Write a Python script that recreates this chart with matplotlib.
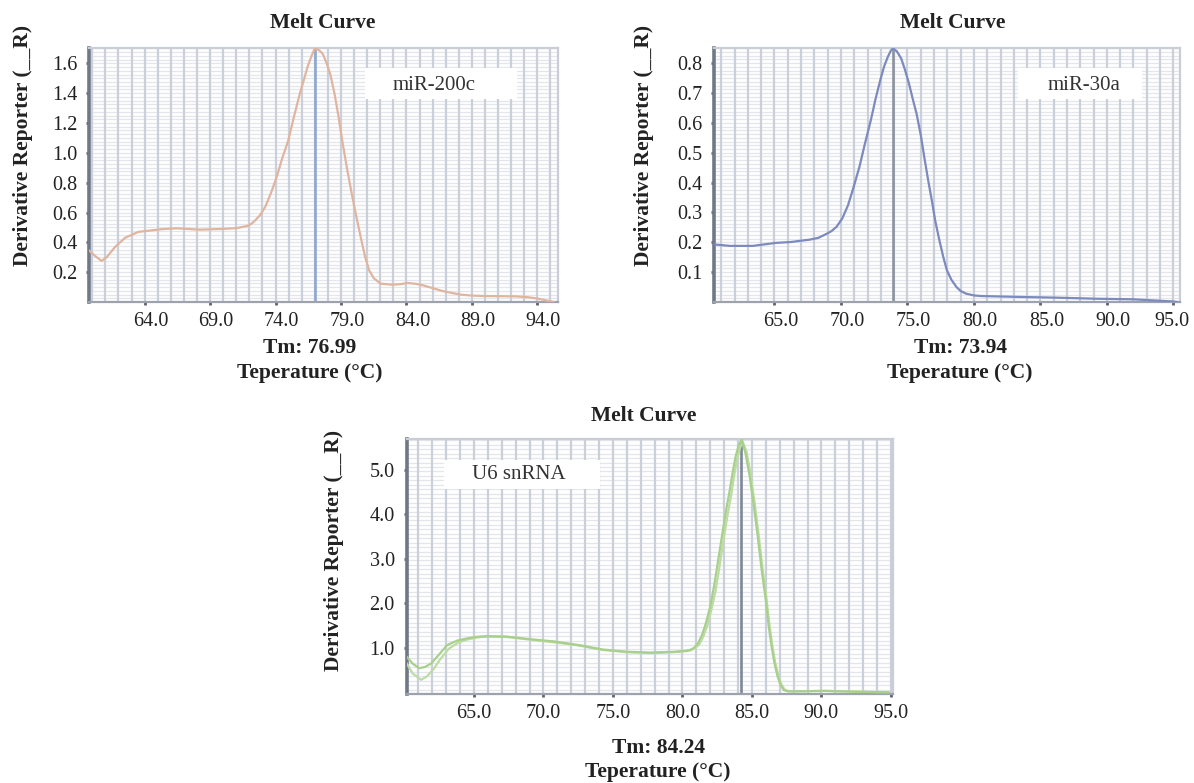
import numpy as np
import matplotlib
matplotlib.use("Agg")
import matplotlib.pyplot as plt
from matplotlib.transforms import ScaledTranslation
from matplotlib.patches import Rectangle

plt.rcParams['font.family'] = ['Liberation Serif', 'DejaVu Serif']

# ---------------- data ----------------
# miR-200c
t1 = [59.74, 60.20, 60.71, 61.10, 61.74, 62.50, 63.51, 65.27, 66.45, 68.21, 69.98,
      71.00, 71.74, 72.00, 72.33, 72.80, 73.21, 73.65, 74.09, 74.50, 74.98, 75.40,
      75.86, 76.20, 76.45, 76.75, 77.00, 77.30, 77.60, 77.91, 78.20, 78.50, 78.80,
      79.09, 79.45, 79.82, 80.20, 80.56, 80.85, 81.15, 81.50, 82.03, 82.91, 83.60,
      84.09, 84.70, 85.27, 86.00, 86.74, 87.50, 88.20, 89.00, 89.97, 92.32, 93.30,
      94.09, 94.70, 95.26]
d1 = [0.347, 0.310, 0.275, 0.300, 0.369, 0.430, 0.470, 0.488, 0.494, 0.485, 0.490,
      0.495, 0.508, 0.515, 0.537, 0.580, 0.637, 0.730, 0.839, 0.960, 1.085, 1.240,
      1.398, 1.500, 1.577, 1.650, 1.700, 1.690, 1.665, 1.600, 1.520, 1.400, 1.250,
      1.085, 0.900, 0.727, 0.560, 0.414, 0.300, 0.213, 0.160, 0.123, 0.116, 0.120,
      0.128, 0.122, 0.112, 0.093, 0.074, 0.060, 0.049, 0.043, 0.040, 0.038, 0.032,
      0.022, 0.010, 0.000]
tm1 = 76.99
xticks1 = [64.0, 69.0, 74.0, 79.0, 84.0, 89.0, 94.0]
yticks1 = [0.2, 0.4, 0.6, 0.8, 1.0, 1.2, 1.4, 1.6]

# miR-30a
t2 = [60.42, 61.65, 63.37, 65.09, 66.23, 67.66, 68.30, 68.95, 69.30, 69.67, 70.10,
      70.53, 70.95, 71.39, 71.80, 72.25, 72.60, 72.96, 73.25, 73.53, 73.75, 73.91,
      74.20, 74.53, 74.80, 75.11, 75.40, 75.68, 76.00, 76.26, 76.55, 76.83, 77.10,
      77.40, 77.70, 77.97, 78.30, 78.69, 79.00, 79.41, 80.00, 80.55, 83.41, 86.28,
      89.14, 92.00, 94.87, 95.30]
d2 = [0.193, 0.188, 0.188, 0.198, 0.201, 0.209, 0.215, 0.229, 0.238, 0.252, 0.280,
      0.324, 0.385, 0.453, 0.530, 0.610, 0.680, 0.744, 0.790, 0.822, 0.842, 0.850,
      0.840, 0.816, 0.780, 0.733, 0.680, 0.632, 0.560, 0.487, 0.410, 0.341, 0.270,
      0.207, 0.150, 0.106, 0.075, 0.050, 0.037, 0.028, 0.022, 0.020, 0.017, 0.0145,
      0.011, 0.009, 0.002, 0.000]
tm2 = 73.94
xticks2 = [65.0, 70.0, 75.0, 80.0, 85.0, 90.0, 95.0]
yticks2 = [0.1, 0.2, 0.3, 0.4, 0.5, 0.6, 0.7, 0.8]

# U6 snRNA (two replicate curves)
t3a = [60.16, 60.60, 61.07, 61.50, 61.94, 62.50, 63.08, 63.80, 64.51, 65.20, 65.94,
       67.38, 69.09, 70.81, 72.53, 74.25, 75.97, 77.69, 79.40, 80.20, 80.55, 80.85,
       81.12, 81.40, 81.69, 82.00, 82.27, 82.55, 82.84, 83.12, 83.41, 83.62, 83.83,
       84.05, 84.27, 84.55, 84.84, 85.13, 85.42, 85.70, 86.00, 86.20, 86.42, 86.62,
       86.85, 87.05, 87.28, 87.60, 88.28, 90.28, 92.57, 94.86]
d3a = [0.80, 0.64, 0.54, 0.57, 0.65, 0.85, 1.06, 1.16, 1.21, 1.245, 1.26,
       1.25, 1.19, 1.14, 1.06, 0.96, 0.91, 0.89, 0.91, 0.93, 0.95, 1.00,
       1.10, 1.28, 1.55, 1.92, 2.37, 2.92, 3.50, 4.05, 4.55, 4.95, 5.30,
       5.55, 5.68, 5.35, 4.85, 4.20, 3.50, 2.75, 2.07, 1.50, 1.02, 0.65,
       0.35, 0.17, 0.05, 0.02, 0.02, 0.03, 0.01, 0.00]
t3b = [60.16, 60.60, 61.20, 61.60, 62.10, 62.60, 63.20, 63.90, 64.60, 65.30, 65.94,
       67.38, 69.09, 70.81, 72.53, 74.25, 75.97, 77.69, 79.40, 80.20, 80.60, 80.90,
       81.20, 81.50, 81.80, 82.10, 82.40, 82.68, 82.95, 83.23, 83.52, 83.73, 83.95,
       84.15, 84.35, 84.62, 84.90, 85.20, 85.48, 85.76, 86.05, 86.25, 86.47, 86.67,
       86.90, 87.10, 87.35, 87.65, 88.28, 90.28, 92.57, 94.86]
d3b = [0.65, 0.42, 0.28, 0.35, 0.52, 0.75, 0.98, 1.12, 1.19, 1.235, 1.25,
       1.24, 1.18, 1.12, 1.05, 0.95, 0.90, 0.88, 0.90, 0.92, 0.94, 0.99,
       1.07, 1.25, 1.50, 1.88, 2.30, 2.85, 3.40, 3.95, 4.45, 4.88, 5.25,
       5.50, 5.62, 5.40, 4.90, 4.25, 3.55, 2.80, 2.10, 1.55, 1.05, 0.68,
       0.38, 0.19, 0.06, 0.02, 0.02, 0.03, 0.01, 0.00]
tm3 = 84.24
xticks3 = [65.0, 70.0, 75.0, 80.0, 85.0, 90.0, 95.0]
yticks3 = [1.0, 2.0, 3.0, 4.0, 5.0]

# ---------------- figure ----------------
W, H = 1194, 783
fig = plt.figure(figsize=(W / 100, H / 100), dpi=100)
fig.patch.set_facecolor('white')


def fr(left, top, right, bottom):
    return [left / W, 1 - bottom / H, (right - left) / W, (bottom - top) / H]


def style(ax, xlim, ylim, hstep, xticks, yticks, label_shift, last_shift=None):
    ax.set_xlim(*xlim)
    ax.set_ylim(*ylim)
    for v in range(int(np.ceil(xlim[0])), int(np.floor(xlim[1])) + 1):
        ax.axvline(v, color='#cbcfda', lw=1.6, zorder=1)
    for h in np.arange(ylim[0] + hstep, ylim[1], hstep):
        ax.axhline(h, color='#e3e6ed', lw=0.9, zorder=0.9)
    ax.set_xticks(xticks)
    ax.set_xticklabels([f"{v:.1f}" for v in xticks])
    ax.set_yticks(yticks)
    ax.set_yticklabels([f"{v:.1f}" for v in yticks])
    ax.tick_params(axis='both', direction='out', length=2.5, width=2,
                   color='#5a6070', labelsize=14.5, labelcolor='#222222')
    ax.tick_params(axis='x', pad=5)
    ax.tick_params(axis='y', pad=6)
    ax.spines['left'].set_color('#707786')
    ax.spines['left'].set_linewidth(2.6)
    ax.spines['bottom'].set_color('#9ca2ae')
    ax.spines['bottom'].set_linewidth(1.6)
    for s in ('top', 'right'):
        ax.spines[s].set_color('#c9cdd6')
        ax.spines[s].set_linewidth(1.6)
    labs = ax.get_xticklabels()
    for i, lab in enumerate(labs):
        sh = label_shift
        if last_shift is not None and i == len(labs) - 1:
            sh = last_shift
        if sh:
            off = ScaledTranslation(sh / 100, 0, fig.dpi_scale_trans)
            lab.set_transform(lab.get_transform() + off)


def label_box(ax, x0, x1, y0, y1, tx, ty, text):
    ax.add_patch(Rectangle((x0, y0), x1 - x0, y1 - y0, transform=ax.transAxes,
                           facecolor='white', edgecolor='none', zorder=3))
    ax.text(tx, ty, text, transform=ax.transAxes, ha='center', va='center',
            fontsize=15, color='#333333', zorder=4)


bold = dict(fontweight='bold', fontsize=15.5, color='#222222', ha='center', va='center')
curve_kw = dict(lw=1.6, zorder=5, solid_joinstyle='round', solid_capstyle='round')

# Panel 1
ax1 = fig.add_axes(fr(89, 48, 558, 302))
style(ax1, (59.75, 95.58), (0.0, 1.703), 0.025, xticks1, yticks1, 6)
ax1.axvline(tm1, color='#8ea8d0', lw=1.9, zorder=2)
ax1.plot(t1, d1, color='#e0b5a0', **curve_kw)
label_box(ax1, 0.588, 0.913, 0.799, 0.921, 0.736, 0.854, 'miR-200c')
fig.text(323 / W, 1 - 23 / H, 'Melt Curve', **bold)
fig.text(310 / W, 1 - 348 / H, 'Tm: 76.99', **bold)
fig.text(310 / W, 1 - 373 / H, 'Teperature (°C)', **bold)
fig.text(23 / W, 1 - 145 / H, 'Derivative Reporter (__R)', rotation=90, **bold)

# Panel 2
ax2 = fig.add_axes(fr(714, 48, 1180, 302))
style(ax2, (60.45, 95.5), (0.0, 0.851), 0.0125, xticks2, yticks2, 6, last_shift=-1)
ax2.axvline(tm2, color='#8e949e', lw=1.9, zorder=2)
ax2.plot(t2, d2, color='#7c8abd', **curve_kw)
label_box(ax2, 0.652, 0.918, 0.799, 0.921, 0.794, 0.854, 'miR-30a')
fig.text(953 / W, 1 - 23 / H, 'Melt Curve', **bold)
fig.text(960 / W, 1 - 348 / H, 'Tm: 73.94', **bold)
fig.text(960 / W, 1 - 373 / H, 'Teperature (°C)', **bold)
fig.text(644 / W, 1 - 145 / H, 'Derivative Reporter (__R)', rotation=90, **bold)

# Panel 3
ax3 = fig.add_axes(fr(406.5, 439, 893, 694))
style(ax3, (60.15, 95.15), (-0.04, 5.69), 0.1, xticks3, yticks3, 0)
ax3.axvline(tm3, color='#7f8898', lw=1.9, zorder=2)
ax3.plot(t3b, d3b, color='#bddca3', **curve_kw)
ax3.plot(t3a, d3a, color='#a8d08c', **curve_kw)
label_box(ax3, 0.077, 0.398, 0.804, 0.918, 0.2305, 0.859, 'U6 snRNA')
fig.text(644 / W, 1 - 416 / H, 'Melt Curve', **bold)
fig.text(658 / W, 1 - 748 / H, 'Tm: 84.24', **bold)
fig.text(658 / W, 1 - 772 / H, 'Teperature (°C)', **bold)
fig.text(334 / W, 1 - 550 / H, 'Derivative Reporter (__R)', rotation=90, **bold)

fig.savefig('out.png', dpi=100, facecolor='white')
